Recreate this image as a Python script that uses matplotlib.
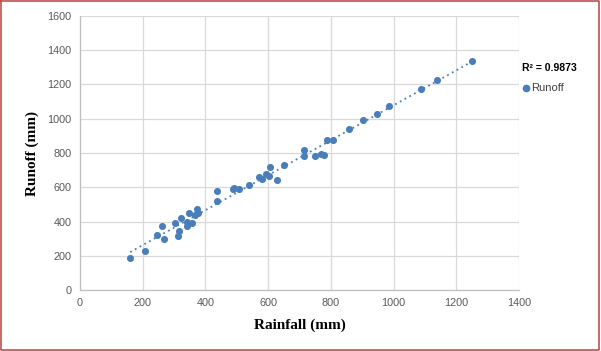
"""
Rainfall-runoff scatter with linear trendline (Excel style)
"""
import numpy as np
import matplotlib
matplotlib.use('Agg')
import matplotlib.pyplot as plt
from matplotlib.lines import Line2D

# rainfall (mm) / runoff (mm)
rainfall = [160, 208, 247, 262, 269, 304, 317, 314, 322, 340, 342, 349, 357,
            367, 374, 377, 438, 438, 487, 492, 508, 540, 572, 579, 592, 604,
            607, 627, 652, 715, 715, 751, 770, 778, 787, 808, 859, 904, 946,
            987, 1086, 1140, 1251]
runoff = [189, 226, 320, 374, 296, 390, 347, 316, 419, 400, 374, 448, 390,
          439, 472, 448, 579, 522, 589, 594, 592, 612, 659, 647, 677, 667,
          718, 641, 729, 819, 780, 780, 792, 786, 875, 875, 938, 990, 1027,
          1074, 1174, 1224, 1335]

x_ticks = [0, 200, 400, 600, 800, 1000, 1200, 1400]
y_ticks = [0, 200, 400, 600, 800, 1000, 1200, 1400, 1600]
r2_label = 'R² = 0.9873'

blue = '#4a7ebb'
tick_col = '#595959'
sans = 'Liberation Sans'

fig = plt.figure(figsize=(6.01, 3.51), dpi=100)
ax = fig.add_axes([80 / 601, 61 / 351, 439 / 601, 274 / 351])

ax.scatter(rainfall, runoff, s=26, color=blue, zorder=3, linewidths=0)

# linear trendline
slope, icpt = np.polyfit(rainfall, runoff, 1)
xs = np.array([min(rainfall), max(rainfall)])
ax.plot(xs, slope * xs + icpt, color=blue, linestyle=(0, (1, 2)), linewidth=1.3, zorder=2)

ax.set_xlim(0, 1400)
ax.set_ylim(0, 1600)
ax.set_xticks(x_ticks)
ax.set_yticks(y_ticks)
ax.grid(True, color='#d9d9d9', linewidth=0.9)
ax.set_axisbelow(True)
ax.tick_params(length=0, labelsize=7.8, labelcolor=tick_col, pad=6)
for lbl in ax.get_xticklabels() + ax.get_yticklabels():
    lbl.set_fontfamily(sans)
for s in ['top', 'right']:
    ax.spines[s].set_visible(False)
for s in ['left', 'bottom']:
    ax.spines[s].set_color('#bfbfbf')
    ax.spines[s].set_linewidth(0.9)

ax.set_xlabel('Rainfall (mm)', fontfamily='Liberation Serif', fontweight='bold',
              fontsize=11, labelpad=7)
ax.set_ylabel('Runoff (mm)', fontfamily='Liberation Serif', fontweight='bold',
              fontsize=11, labelpad=6)

# R² label + legend entry on the right
fig.text(522 / 601, 1 - 68 / 351, r2_label, fontsize=7.5, fontweight='bold',
         fontfamily=sans, va='center', ha='left', color='black')
fig.add_artist(Line2D([526 / 601], [1 - 88 / 351], marker='o', markersize=4.5,
                      color=blue, linestyle='none', transform=fig.transFigure))
fig.text(531 / 601, 1 - 88 / 351, 'Runoff', fontsize=8, fontfamily=sans,
         va='center', ha='left', color='#404040')

# red frame around the chart
red = '#c0504d'
frame_x = np.array([0.8, 598.5, 598.5, 0.8, 0.8]) / 601
frame_y = 1 - np.array([0.8, 0.8, 350.2, 350.2, 0.8]) / 351
fig.add_artist(Line2D(frame_x, frame_y, color=red, linewidth=1.2,
                      transform=fig.transFigure))

fig.savefig('out.png', dpi=100)
